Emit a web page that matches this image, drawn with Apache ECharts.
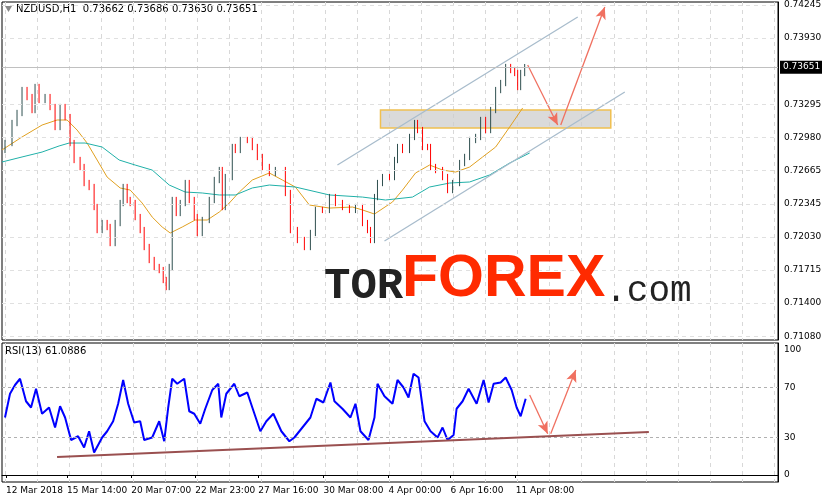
<!DOCTYPE html>
<html><head><meta charset="utf-8">
<script src="https://cdn.jsdelivr.net/npm/echarts@6/dist/echarts.min.js"></script>
<style>html,body{margin:0;padding:0;background:#fff}#c{width:822px;height:502px}</style>
</head><body><div id="c"></div>
<script>
// candle positions (hour index) and closes
const candleHours = [3,10,15,20,25,30,33,37,43,48,53,58,63,68,72,78,82,87,92,95,100,105,108,113,118,121,125,128,133,138,142,147,152,157,161,164,167,170,174,178,183,187,192,195,200,207,212,217,220,223,230,233,238,245,250,255,260,267,
273,283,288,295,302,308,313,320,327,333,340,347,353,360,365,368,372,375,380,387,392,395,400,407,412,415,420,425,428,433,440,445,450,457,462,467,473,478,483,488,493,498,503,508,512,515,518,522];
const closes = [0.72926,0.73117,0.73213,0.73432,0.73365,0.73241,0.73461,0.73337,0.73365,0.73270,
0.73079,0.73270,0.73174,0.72926,0.72764,0.72697,0.72544,0.72506,0.72315,0.72095,
0.72162,0.72124,0.71971,0.72162,0.72353,0.72506,0.72382,0.72353,0.72219,0.72095,
0.71933,0.71809,0.71742,0.71713,0.71618,0.71551,0.71742,0.72382,0.72258,0.72353,
0.72544,0.72382,0.72219,0.72067,0.72191,0.72382,0.72573,0.72668,0.72315,0.72601,
0.72888,0.72860,0.72955,0.72955,0.72888,0.72793,0.72697,0.72640,
0.72668,0.72449,0.72095,0.72000,0.71933,0.72067,0.72287,0.72287,0.72410,0.72353,
0.72315,0.72287,0.72315,0.72162,0.72095,0.72000,0.72410,0.72544,0.72601,0.72601,
0.72764,0.72888,0.72860,0.72984,0.73117,0.73050,0.72888,0.72888,0.72697,0.72668,
0.72601,0.72477,0.72544,0.72735,0.72793,0.72955,0.72984,0.73146,0.73050,0.73241,
0.73432,0.73499,0.73652,0.73623,0.73595,0.73461,0.73595,0.73651];
const firstOpen = 0.72860;
const wick = 0.0003;
const maFastHours = [0,20,40,55,65,75,85,95,105,118,128,140,150,160,168,180,193,205,217,227,237,250,267,280,293,307,327,350,360,372,390,400,413,427,440,453,467,480,493,507,520];
const maFast = [0.72860,0.72984,0.73098,0.73146,0.73146,0.73050,0.72926,0.72764,0.72601,0.72497,0.72477,0.72353,0.72219,0.72124,0.72067,0.72124,0.72191,0.72191,0.72267,0.72353,0.72458,0.72573,0.72640,0.72573,0.72506,0.72334,0.72305,0.72315,0.72287,0.72248,0.72363,0.72477,0.72640,0.72716,0.72668,0.72649,0.72697,0.72793,0.72888,0.73079,0.73261];
const maSlowHours = [0,20,40,57,67,83,100,117,133,150,167,183,200,217,233,250,267,293,327,360,383,410,427,447,467,487,507,527];
const maSlow = [0.72745,0.72793,0.72840,0.72898,0.72926,0.72926,0.72888,0.72764,0.72716,0.72668,0.72525,0.72458,0.72449,0.72430,0.72430,0.72497,0.72525,0.72506,0.72430,0.72410,0.72382,0.72410,0.72506,0.72544,0.72554,0.72621,0.72735,0.72831];
const priceTicks = [0.74245,0.73930,0.73610,0.73295,0.72980,0.72665,0.72345,0.72030,0.71715,0.71400,0.71080];
const lastPrice = 0.73651;
const rsiX = [5,15,25,35,45,55,65,75,90,100,110,120,130,145,155,165,175,190,200,210,220,230,240,250,262,270,285,298,308,315,322,333,345,355,365,375,385,398,410,415,425,440,450,465,475,490,500,515,530,545,555,570,585,595,610,622,630,645,660,670,680,695,705,712,725,740,750,760,770,780,790,800,812,825,835,845,855,862,872,885,900,912,922,932,945,955,965,975,982,992];
const rsiVal = [46,65,72,77,59,54,69,49,54,38,55,46,28,31,22,35,18,30,35,43,57,76,57,42,43,28,30,43,27,54,77,73,77,51,49,41,53,68,73,46,65,73,63,66,54,35,43,49,35,27,30,38,46,61,58,74,59,53,46,57,35,28,46,73,63,57,76,70,62,81,78,43,35,30,38,28,32,53,59,69,57,76,58,73,74,78,68,54,47,61];
const rsiTicks = [100,70,30,0];
const dateLabels = [[4,'12 Mar 2018'],[65,'15 Mar 14:00'],[129,'20 Mar 07:00'],[193,'22 Mar 23:00'],[256,'27 Mar 16:00'],[321,'30 Mar 08:00'],[386,'4 Apr 00:00'],[448,'6 Apr 16:00'],[513,'11 Apr 08:00']];
const channelUpper = [[335,0.72716],[575,0.74130]];
const channelLower = [[382,0.71991],[622,0.73413]];
const arrowDown = [[525,0.73671],[555,0.73098]];
const arrowUp = [[558,0.73098],[602,0.74225]];
const zoneBox = [[378,0.73241],[608,0.73070]];
const rsiTrend = [[55,14.4],[646,34.4]];
const rsiArrowDown = [[527,64],[545,33]];
const rsiArrowUp = [[548,33],[573,84]];

const N = 776;
const cats = [];
for (let i=0;i<N;i++) cats.push('');
dateLabels.forEach(d=>{cats[d[0]]=d[1];});
const candleData = cats.map(()=> '-');
candleHours.forEach((h,i)=>{
  const o = i===0 ? firstOpen : closes[i-1], c = closes[i];
  candleData[h] = [o, c, Math.min(o,c)-wick, Math.max(o,c)+wick];
});
const fast = maFastHours.map((h,i)=>[h,maFast[i]]);
const slow = maSlowHours.map((h,i)=>[h,maSlow[i]]);
const rsi = rsiX.map((zx,i)=>[Math.round(zx*0.527), rsiVal[i]]);
const isGridV = i => (i-3)%32===0;
const isLab = i => cats[i] !== '';
const font = 'DejaVu Sans';
const seg = (p, color, width, arrow) => [{coord:p[0], symbol:'none'},{coord:p[1], symbol: arrow?'arrow':'none', symbolSize:[8,12], lineStyle:{color, width, type:'solid'}}];

const chart = echarts.init(document.getElementById('c'), null, {renderer:'canvas'});
chart.setOption({
  animation:false,
  textStyle:{fontFamily:font},
  grid:[{left:2,right:44,top:2,height:338,show:true,borderColor:'#000',borderWidth:1},
        {left:2,right:44,top:343,height:139,show:true,borderColor:'#000',borderWidth:1}],
  xAxis:[
    {type:'category',gridIndex:0,data:cats,boundaryGap:false,axisLine:{show:false},axisTick:{show:false},axisLabel:{show:false},
     splitLine:{show:true,interval:(i)=>isGridV(i),lineStyle:{color:'#d8d8d8',type:[4,4]}}},
    {type:'category',gridIndex:1,data:cats,boundaryGap:false,axisLine:{show:true,lineStyle:{color:'#000'}},
     axisTick:{show:true,interval:(i)=>isLab(i),length:3,lineStyle:{color:'#000'}},
     axisLabel:{interval:(i)=>isLab(i),align:'left',fontSize:9,color:'#000',margin:4,fontFamily:font,hideOverlap:false,showMinLabel:true},
     splitLine:{show:true,interval:(i)=>isGridV(i),lineStyle:{color:'#d8d8d8',type:[4,4]}}}
  ],
  yAxis:[
    {type:'value',gridIndex:0,position:'right',min:0.71045,max:0.74273,axisLabel:{show:false},splitLine:{show:false},axisLine:{show:true,lineStyle:{color:'#000'}},axisTick:{show:false}},
    {type:'value',gridIndex:1,position:'right',min:-5.6,max:105.6,axisLabel:{show:false},splitLine:{show:false},axisLine:{show:true,lineStyle:{color:'#000'}},axisTick:{show:false}}
  ],
  series:[
    {type:'candlestick',xAxisIndex:0,yAxisIndex:0,data:candleData,barWidth:4,z:3,
     itemStyle:{color:'#2f4f4f',color0:'#ff0000',borderColor:'#2f4f4f',borderColor0:'#ff0000',borderWidth:1},
     markArea:{silent:true,itemStyle:{color:'rgba(205,205,205,0.75)',borderColor:'#f0c050',borderWidth:1.5},
       data:[[{coord:zoneBox[0]},{coord:zoneBox[1]}]]},
     markLine:{silent:true,symbol:'none',label:{show:false},precision:5,
       data:[
         seg(channelUpper,'#a8bccc',1.3,false),
         seg(channelLower,'#a8bccc',1.3,false),
         seg(arrowDown,'#f07060',1.3,true),
         seg(arrowUp,'#f07060',1.3,true)
       ]}},
    {type:'line',xAxisIndex:0,yAxisIndex:0,data:fast,symbol:'none',lineStyle:{color:'#e0a020',width:1},z:2,
     markLine:{silent:true,symbol:'none',label:{show:false},precision:5,
       data:[
         ...priceTicks.filter(v=>v!==0.73610).map(v=>({yAxis:v,lineStyle:{color:'#e0e0e0',type:[4,4],width:1},label:{show:true,position:'end',formatter:v.toFixed(5),color:'#000',fontSize:9,distance:6}})),
         {yAxis:lastPrice,lineStyle:{color:'#c0c0c0',width:1,type:'solid'},label:{show:true,position:'end',formatter:lastPrice.toFixed(5),color:'#fff',backgroundColor:'#000',padding:[2,3],fontSize:9,distance:2}}
       ]}},
    {type:'line',xAxisIndex:0,yAxisIndex:0,data:slow,symbol:'none',lineStyle:{color:'#20b0a8',width:1},z:2},
    {type:'line',xAxisIndex:1,yAxisIndex:1,data:rsi,symbol:'none',lineStyle:{color:'#0000ff',width:2},z:3,
     markLine:{silent:true,symbol:'none',label:{show:false},precision:2,
       data:[
         ...rsiTicks.map(v=>({yAxis:v,lineStyle:{color:(v===70||v===30)?'#b0b0b0':'rgba(0,0,0,0)',type:[3,3],width:1},label:{show:true,position:'end',formatter:String(v),color:'#000',fontSize:9,distance:6}})),
         seg(rsiTrend,'#9a5050',2,false),
         seg(rsiArrowDown,'#f07060',1.3,true),
         seg(rsiArrowUp,'#f07060',1.3,true)
       ]}}
  ],
  graphic:[
    {type:'text',left:16,top:4,style:{text:'NZDUSD,H1  0.73662 0.73686 0.73630 0.73651',font:'10px '+font,fill:'#000'}},
    {type:'polygon',shape:{points:[[5,6],[12,6],[8.5,12]]},style:{fill:'#888'}},
    {type:'text',left:5,top:346,style:{text:'RSI(13) 61.0886',font:'10px '+font,fill:'#000'}},
    {type:'text',left:324,top:250,z:10,style:{rich:{
        a:{fontSize:44,fontFamily:'Liberation Mono',fontWeight:'bold',fill:'#222',verticalAlign:'bottom',width:78},
        b:{fontSize:59,fontFamily:'Liberation Sans',fontWeight:'bold',fill:'#ff2a00',verticalAlign:'bottom'},
        c:{fontSize:36,fontFamily:'Liberation Mono',fill:'#222',verticalAlign:'bottom'}},
      text:'{a|TOR}{b|FOREX}{c|.com}'}}
  ]
});
</script></body></html>
